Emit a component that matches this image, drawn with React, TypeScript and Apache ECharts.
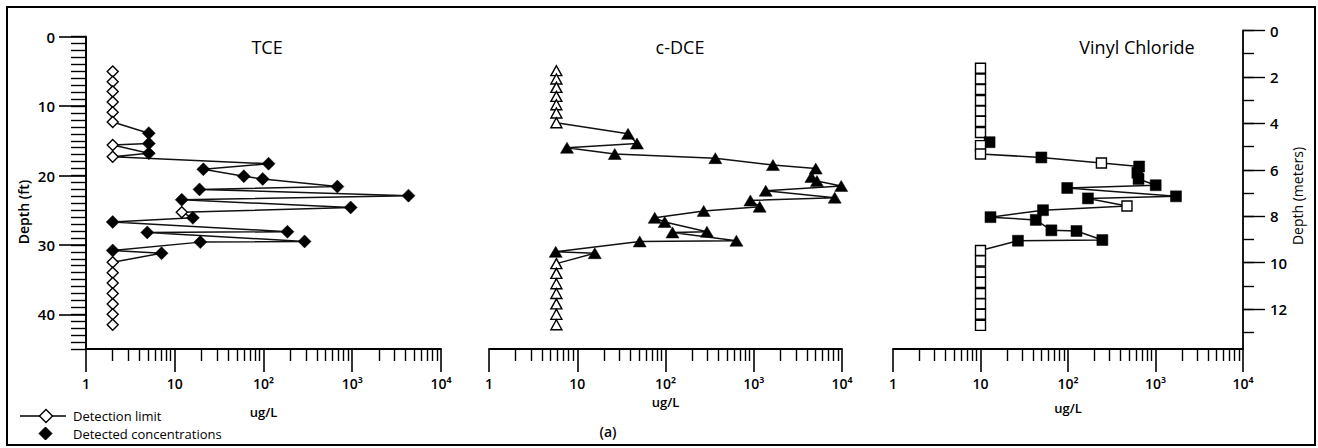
import React, { useEffect, useRef } from "react";
import * as echarts from "echarts";

const FONT = "'Open Sans', 'Noto Sans', 'DejaVu Sans', sans-serif";

// ---- texts ----
const panelTitles = ["TCE", "c-DCE", "Vinyl Chloride"];
const concUnit = "ug/L";
const depthFtName = "Depth (ft)";
const depthMName = "Depth (meters)";
const legendLabels = ["Detection limit", "Detected concentrations"];
const figureLabel = "(a)";

// ---- ticks ----
const concMajorTicks = [1, 10, 100, 1000, 10000];
const concTickLabels = ["1", "10", "10²", "10³", "10⁴"];
const concMinorTicks = [
  2, 3, 4, 5, 6, 7, 8, 9,
  20, 30, 40, 50, 60, 70, 80, 90,
  200, 300, 400, 500, 600, 700, 800, 900,
  2000, 3000, 4000, 5000, 6000, 7000, 8000, 9000,
];
const depthFtMax = 45;
const depthFtMajor = [0, 10, 20, 30, 40];
const depthFtMinor = [
  0, 1, 2, 3, 4, 5, 6, 7, 8, 9, 10, 11, 12, 13, 14, 15, 16, 17, 18, 19, 20, 21, 22,
  23, 24, 25, 26, 27, 28, 29, 30, 31, 32, 33, 34, 35, 36, 37, 38, 39, 40, 41, 42, 43, 44, 45,
];
const depthMMax = 13.716;
const depthMMajor = [0, 2, 4, 6, 8, 10, 12];
const depthMMinor = [0, 1, 2, 3, 4, 5, 6, 7, 8, 9, 10, 11, 12, 13];

// ---- data: depth (ft), concentration (ug/L), detected (1) / detection limit (0) ----
const tceDepth = [
  5.0, 6.5, 7.9, 9.4, 10.9, 12.3, 13.9, 15.4, 15.6, 16.8, 17.3, 18.3, 19.1, 20.1, 20.5,
  21.6, 22.0, 22.9, 23.5, 24.6, 25.3, 26.1, 26.7, 28.1, 28.2, 29.5, 29.6, 30.8, 31.2,
  32.5, 34.0, 35.5, 37.0, 38.5, 40.0, 41.5,
];
const tceValue = [
  2, 2, 2, 2, 2, 2, 5.1, 5.1, 2, 5.1, 2, 114, 21, 60, 98,
  680, 19, 4300, 12, 960, 12, 16, 2, 186, 4.9, 290, 19.4, 2, 7.1,
  2, 2, 2, 2, 2, 2, 2,
];
const tceDetected = [
  0, 0, 0, 0, 0, 0, 1, 1, 0, 1, 0, 1, 1, 1, 1,
  1, 1, 1, 1, 1, 0, 1, 1, 1, 1, 1, 1, 1, 1,
  0, 0, 0, 0, 0, 0, 0,
];

const dceDepth = [
  4.9, 6.1, 7.3, 8.6, 9.8, 11.0, 12.4, 14.0, 15.4, 16.0, 16.9, 17.5, 18.5, 19.0, 20.2,
  20.8, 21.5, 22.2, 23.2, 23.6, 24.5, 25.1, 26.1, 26.7, 28.1, 28.2, 29.4, 29.5, 31.0,
  31.2, 32.7, 34.1, 35.6, 37.0, 38.5, 40.0, 41.5,
];
const dceValue = [
  5.8, 5.8, 5.8, 5.8, 5.8, 5.8, 5.8, 37.6, 47.5, 7.65, 26.6, 367, 1650, 5040, 4500,
  5200, 9800, 1366, 8270, 916, 1167, 271, 75.5, 98, 295, 120, 636, 51, 5.7,
  15.8, 5.8, 5.8, 5.8, 5.8, 5.8, 5.8, 5.8,
];
const dceDetected = [
  0, 0, 0, 0, 0, 0, 0, 1, 1, 1, 1, 1, 1, 1, 1,
  1, 1, 1, 1, 1, 1, 1, 1, 1, 1, 1, 1, 1, 1,
  1, 0, 0, 0, 0, 0, 0, 0,
];

const vcDepth = [
  4.55, 6.1, 7.6, 9.2, 10.7, 12.2, 13.8, 15.2, 15.7, 16.9, 17.4, 18.2, 18.7, 19.6, 20.5,
  21.4, 21.8, 23.0, 23.3, 24.4, 25.0, 26.0, 26.4, 27.9, 28.0, 29.3, 29.4,
  30.8, 32.3, 33.9, 35.4, 37.0, 38.5, 40.0, 41.6,
];
const vcValue = [
  10, 10, 10, 10, 10, 10, 10, 12.7, 10, 10, 49.6, 241, 650, 620, 640,
  1005, 98, 1714, 169, 472, 51.8, 13, 42.8, 64.6, 125, 247, 26.8,
  10, 10, 10, 10, 10, 10, 10, 10,
];
const vcDetected = [
  0, 0, 0, 0, 0, 0, 0, 1, 0, 0, 1, 0, 1, 1, 1,
  1, 1, 1, 1, 0, 1, 1, 1, 1, 1, 1, 1,
  0, 0, 0, 0, 0, 0, 0, 0,
];

const concLabel = (v: number) => {
  const i = concMajorTicks.findIndex((t) => Math.abs(Math.log10(t) - Math.log10(v)) < 1e-6);
  return i >= 0 ? concTickLabels[i] : "";
};

const tickLabelStyle = {
  color: "#000",
  fontSize: 14,
  fontFamily: FONT,
  fontWeight: 600 as any,
};

function xMinor(g: number) {
  return {
    type: "log",
    logBase: 10,
    gridIndex: g,
    position: "bottom",
    min: 1,
    max: 10000,
    axisLine: { show: true, onZero: false, lineStyle: { color: "#000", width: 1.8 } },
    axisTick: { show: true, customValues: concMinorTicks, length: 12, lineStyle: { color: "#000", width: 1.4 } },
    axisLabel: { show: false },
    splitLine: { show: false },
    minorTick: { show: false },
  };
}

function xMajor(g: number, nameGap: number) {
  return {
    type: "log",
    logBase: 10,
    gridIndex: g,
    position: "bottom",
    min: 1,
    max: 10000,
    axisLine: { show: false, onZero: false },
    axisTick: { show: true, customValues: concMajorTicks, length: 23, lineStyle: { color: "#000", width: 1.6 } },
    axisLabel: { show: true, customValues: concMajorTicks, formatter: concLabel, margin: 27, ...tickLabelStyle },
    splitLine: { show: false },
    name: concUnit,
    nameLocation: "middle",
    nameGap,
    nameMoveOverlap: false,
    nameTextStyle: { color: "#000", fontSize: 13, fontFamily: FONT, fontWeight: 600 as any },
  };
}

function yHidden(g: number) {
  return {
    type: "value",
    gridIndex: g,
    position: "left",
    inverse: true,
    min: 0,
    max: depthFtMax,
    show: false,
    axisLine: { onZero: false },
    splitLine: { show: false },
  };
}

type Shape = "diamond" | "triangle" | "rect";

function buildSeries(
  name: string,
  depths: number[],
  values: number[],
  detected: number[],
  symbol: Shape,
  openSize: number[],
  filledSize: number[],
  xi: number,
  yi: number
) {
  return {
    type: "line",
    name,
    xAxisIndex: xi,
    yAxisIndex: yi,
    clip: false,
    silent: true,
    showSymbol: true,
    showAllSymbol: true,
    z: 3,
    lineStyle: { color: "#111", width: 1.5 },
    itemStyle: { color: "#000" },
    emphasis: { disabled: true },
    data: values.map((v, i) =>
      detected[i]
        ? {
            value: [v, depths[i]],
            symbol,
            symbolSize: filledSize,
            itemStyle: { color: "#000", borderColor: "#000", borderWidth: 0.5 },
          }
        : {
            value: [v, depths[i]],
            symbol,
            symbolSize: openSize,
            itemStyle: { color: "#fff", borderColor: "#000", borderWidth: 1.4 },
          }
    ),
  };
}

export default function App() {
  const ref = useRef<HTMLDivElement>(null);

  useEffect(() => {
    if (!ref.current) return;
    const chart = echarts.init(ref.current, undefined, { renderer: "svg" });

    const gridTop = 36.7;
    const gridH = 312.3;

    const centered = {
      align: "center",
      verticalAlign: "middle",
      textAlign: "center",
      textVerticalAlign: "middle",
    };

    const option: any = {
      animation: false,
      backgroundColor: "#fff",
      textStyle: { fontFamily: FONT },
      grid: [
        { left: 86, top: gridTop, width: 355, height: gridH },
        { left: 489, top: gridTop, width: 353, height: gridH },
        { left: 893, top: gridTop, width: 350, height: gridH },
        { left: 893, top: 30.5, width: 350, height: 318.5 },
      ],
      xAxis: [
        xMinor(0),
        xMajor(0, 56),
        xMinor(1),
        xMajor(1, 46),
        xMinor(2),
        xMajor(2, 52),
        { type: "value", gridIndex: 3, show: false, min: 0, max: 1, axisLine: { onZero: false } },
      ],
      yAxis: [
        {
          type: "value",
          gridIndex: 0,
          position: "left",
          inverse: true,
          min: 0,
          max: depthFtMax,
          axisLine: { show: true, onZero: false, lineStyle: { color: "#000", width: 2 } },
          axisTick: { show: true, customValues: depthFtMinor, length: 15, lineStyle: { color: "#000", width: 1.4 } },
          axisLabel: { show: false },
          splitLine: { show: false },
        },
        {
          type: "value",
          gridIndex: 0,
          position: "left",
          inverse: true,
          min: 0,
          max: depthFtMax,
          axisLine: { show: false, onZero: false },
          axisTick: { show: true, customValues: depthFtMajor, length: 27, lineStyle: { color: "#000", width: 1.6 } },
          axisLabel: { show: true, customValues: depthFtMajor, margin: 31, ...tickLabelStyle, fontSize: 15 },
          splitLine: { show: false },
        },
        yHidden(1),
        yHidden(2),
        {
          type: "value",
          gridIndex: 3,
          position: "right",
          inverse: true,
          min: 0,
          max: depthMMax,
          axisLine: { show: true, onZero: false, lineStyle: { color: "#000", width: 1.8 } },
          axisTick: { show: true, customValues: depthMMinor, length: 11, lineStyle: { color: "#000", width: 1.4 } },
          axisLabel: { show: false },
          splitLine: { show: false },
        },
        {
          type: "value",
          gridIndex: 3,
          position: "right",
          inverse: true,
          min: 0,
          max: depthMMax,
          axisLine: { show: false, onZero: false },
          axisTick: { show: true, customValues: depthMMajor, length: 22, lineStyle: { color: "#000", width: 1.4 } },
          axisLabel: { show: true, customValues: depthMMajor, margin: 27, ...tickLabelStyle, fontSize: 15 },
          splitLine: { show: false },
        },
      ],
      series: [
        buildSeries(panelTitles[0], tceDepth, tceValue, tceDetected, "diamond", [11, 11], [13, 13], 0, 0),
        buildSeries(panelTitles[1], dceDepth, dceValue, dceDetected, "triangle", [11, 10], [13, 11], 2, 2),
        buildSeries(panelTitles[2], vcDepth, vcValue, vcDetected, "rect", [10, 10], [11, 11], 4, 3),
      ],
      graphic: [
        {
          type: "rect",
          shape: { x: 7, y: 7, width: 1308, height: 438 },
          style: { fill: "none", stroke: "#000", lineWidth: 2 },
          z: 10,
        },
        ...[267, 680, 1137].map((x, i) => ({
          type: "text",
          x,
          y: 47,
          style: { text: panelTitles[i], font: `18px ${FONT}`, fill: "#000", ...centered },
        })),
        {
          type: "text",
          x: 23,
          y: 212,
          rotation: Math.PI / 2,
          style: { text: depthFtName, font: `600 14px ${FONT}`, fill: "#000", ...centered },
        },
        {
          type: "text",
          x: 1297,
          y: 196,
          rotation: Math.PI / 2,
          style: { text: depthMName, font: `14px ${FONT}`, fill: "#000", ...centered },
        },
        {
          type: "text",
          x: 608,
          y: 431,
          style: { text: figureLabel, font: `600 14px ${FONT}`, fill: "#000", ...centered },
        },
        // legend
        {
          type: "line",
          shape: { x1: 20, y1: 416, x2: 66, y2: 416 },
          style: { stroke: "#000", lineWidth: 1.5 },
        },
        {
          type: "polygon",
          shape: { points: [[46, 409.5], [52.5, 416], [46, 422.5], [39.5, 416]] },
          style: { fill: "#fff", stroke: "#000", lineWidth: 1.4 },
        },
        {
          type: "polygon",
          shape: { points: [[45.5, 427], [52, 433.5], [45.5, 440], [39, 433.5]] },
          style: { fill: "#000", stroke: "#000", lineWidth: 1 },
        },
        ...legendLabels.map((t, i) => ({
          type: "text",
          x: 73,
          y: i === 0 ? 416 : 433.5,
          style: {
            text: t,
            font: `13px ${FONT}`,
            fill: "#000",
            align: "left",
            verticalAlign: "middle",
            textAlign: "left",
            textVerticalAlign: "middle",
          },
        })),
      ],
    };

    chart.setOption(option);
    return () => chart.dispose();
  }, []);

  return (
    <div
      ref={ref}
      style={{ position: "fixed", left: 0, top: 0, width: 1318, height: 448, background: "#fff" }}
    />
  );
}
